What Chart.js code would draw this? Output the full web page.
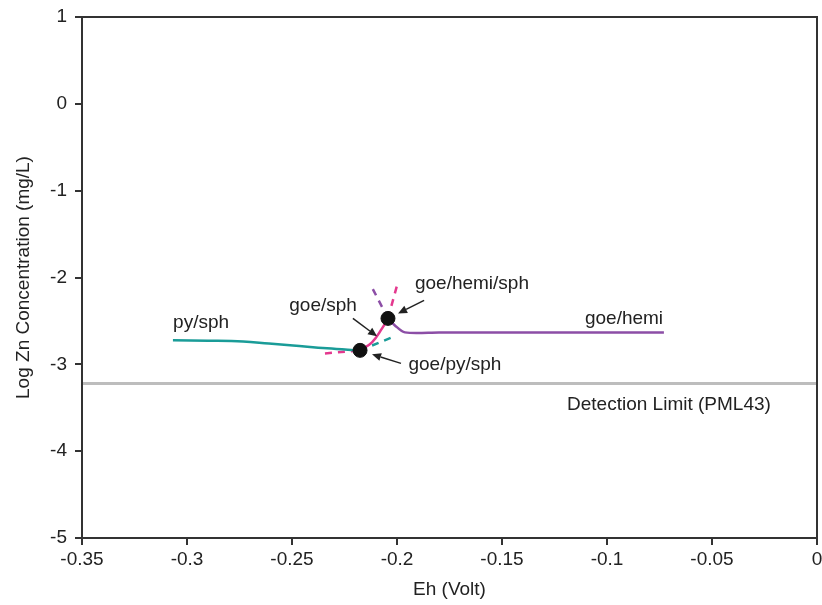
<!DOCTYPE html>
<html><head><meta charset="utf-8">
<script src="https://cdn.jsdelivr.net/npm/chart.js@4.4.1/dist/chart.umd.min.js"></script>
<style>html,body{margin:0;padding:0;background:#fff}#wrap{width:822px;height:605px}</style>
</head><body><div id="wrap"><canvas id="c" width="822" height="605"></canvas></div>
<script>
// Data (Eh in Volt, log Zn in mg/L)
const pySphEh   = [-0.3067, -0.2900, -0.2733, -0.2610, -0.2495, -0.2333, -0.2176];
const pySphLog  = [-2.724, -2.727, -2.736, -2.760, -2.782, -2.816, -2.839];
const pySphDashEh  = [-0.2176, -0.2024];
const pySphDashLog = [-2.839, -2.690];
const goeSphEh   = [-0.2176, -0.2119, -0.2071, -0.2043];
const goeSphLog  = [-2.839, -2.747, -2.586, -2.471];
const goeSphDashLeftEh  = [-0.2343, -0.2176];
const goeSphDashLeftLog = [-2.874, -2.839];
const goeSphDashUpEh  = [-0.2043, -0.2000];
const goeSphDashUpLog = [-2.471, -2.092];
const goeHemiEh   = [-0.2043, -0.2010, -0.1962, -0.1800, -0.0729];
const goeHemiLog  = [-2.471, -2.552, -2.632, -2.632, -2.632];
const goeHemiDashEh  = [-0.2043, -0.2119];
const goeHemiDashLog = [-2.471, -2.115];
const triplePointEh  = [-0.2176, -0.2043];
const triplePointLog = [-2.839, -2.471];
const detectionEh  = [-0.35, 0];
const detectionLog = [-3.22, -3.22];
const xTicks = [-0.35, -0.3, -0.25, -0.2, -0.15, -0.1, -0.05, 0];
const yTicks = [1, 0, -1, -2, -3, -4, -5];

const labels = [
  {text: 'py/sph', x: -0.2933, y: -2.517},
  {text: 'goe/sph', x: -0.2352, y: -2.322},
  {text: 'goe/hemi/sph', x: -0.1643, y: -2.069},
  {text: 'goe/py/sph', x: -0.1724, y: -3.0},
  {text: 'goe/hemi', x: -0.0919, y: -2.471},
  {text: 'Detection Limit (PML43)', x: -0.0705, y: -3.46}
];
const arrows = [
  {x1: -0.2210, y1: -2.471, x2: -0.2095, y2: -2.678},
  {x1: -0.1871, y1: -2.264, x2: -0.1995, y2: -2.414},
  {x1: -0.1981, y1: -2.989, x2: -0.2119, y2: -2.885}
];

const pts = (xs, ys) => xs.map((x, i) => ({x, y: ys[i]}));
const TEAL = '#1a9c98', MAG = '#e4388e', PUR = '#8c4ea6';
const FONT = "'Liberation Sans', Arial, sans-serif";
const FS = 19;

const framePlugin = {
  id: 'frame',
  afterDraw(chart) {
    const {ctx, chartArea: a, scales} = chart;
    ctx.save();
    ctx.strokeStyle = '#333'; ctx.lineWidth = 2;
    ctx.strokeRect(a.left, a.top, a.right - a.left, a.bottom - a.top);
    ctx.fillStyle = '#222';
    ctx.font = FS + 'px ' + FONT;
    ctx.textAlign = 'center'; ctx.textBaseline = 'middle';
    labels.forEach(l => ctx.fillText(l.text, scales.x.getPixelForValue(l.x), scales.y.getPixelForValue(l.y)));
    ctx.strokeStyle = '#222'; ctx.fillStyle = '#222'; ctx.lineWidth = 1.5;
    arrows.forEach(ar => {
      const x1 = scales.x.getPixelForValue(ar.x1), y1 = scales.y.getPixelForValue(ar.y1);
      const x2 = scales.x.getPixelForValue(ar.x2), y2 = scales.y.getPixelForValue(ar.y2);
      const ang = Math.atan2(y2 - y1, x2 - x1);
      const hl = 9, hw = 4;
      const bx = x2 - hl * Math.cos(ang), by = y2 - hl * Math.sin(ang);
      ctx.beginPath(); ctx.moveTo(x1, y1); ctx.lineTo(bx, by); ctx.stroke();
      ctx.beginPath();
      ctx.moveTo(x2, y2);
      ctx.lineTo(bx + hw * Math.sin(ang), by - hw * Math.cos(ang));
      ctx.lineTo(bx - hw * Math.sin(ang), by + hw * Math.cos(ang));
      ctx.closePath(); ctx.fill();
    });
    ctx.restore();
  }
};

const lineDs = (data, color, dash, extra) => Object.assign({
  data, borderColor: color, backgroundColor: color, borderWidth: 2.5,
  showLine: true, pointRadius: 0, borderDash: dash || [], tension: 0.4, fill: false, order: 1
}, extra || {});

const zeroPad = s => {
  s.paddingLeft = 0; s.paddingRight = 0; s.paddingTop = 0; s.paddingBottom = 0;
};

new Chart(document.getElementById('c'), {
  type: 'scatter',
  data: {
    datasets: [
      lineDs(pts(detectionEh, detectionLog), '#bdbdbd', [], {borderWidth: 3, tension: 0, order: 10}),
      lineDs(pts(pySphEh, pySphLog), TEAL),
      lineDs(pts(pySphDashEh, pySphDashLog), TEAL, [7, 6], {tension: 0}),
      lineDs(pts(goeSphDashLeftEh, goeSphDashLeftLog), MAG, [7, 6], {tension: 0}),
      lineDs(pts(goeSphDashUpEh, goeSphDashUpLog), MAG, [7, 6], {tension: 0}),
      lineDs(pts(goeHemiDashEh, goeHemiDashLog), PUR, [7, 6], {tension: 0}),
      lineDs(pts(goeSphEh, goeSphLog), MAG, [], {order: 0}),
      lineDs(pts(goeHemiEh, goeHemiLog), PUR, [], {tension: 0.3}),
      {data: pts(triplePointEh, triplePointLog), backgroundColor: '#111', borderColor: '#111',
       pointRadius: 7, showLine: false, order: -1}
    ]
  },
  options: {
    responsive: false, animation: false,
    layout: {autoPadding: false, padding: {top: 17, right: 5, left: 0, bottom: 0}},
    plugins: {legend: {display: false}, tooltip: {enabled: false}},
    scales: {
      x: {
        type: 'linear', min: -0.35, max: 0,
        afterBuildTicks: s => { s.ticks = xTicks.map(v => ({value: v})); },
        afterFit: s => { s.height = 67; zeroPad(s); },
        grid: {drawOnChartArea: false, tickLength: 7, color: '#333', lineWidth: 2},
        border: {color: '#333', width: 2},
        ticks: {color: '#222', font: {size: FS, family: FONT}, padding: 3, maxRotation: 0,
                callback: v => String(Math.round(v * 100) / 100)},
        title: {display: true, text: 'Eh (Volt)', color: '#222', font: {size: FS, family: FONT}, padding: {top: 0}}
      },
      y: {
        type: 'linear', min: -5, max: 1,
        afterBuildTicks: s => { s.ticks = yTicks.map(v => ({value: v})); },
        afterFit: s => { s.width = 82; zeroPad(s); },
        grid: {drawOnChartArea: false, tickLength: 7, color: '#333', lineWidth: 2},
        border: {color: '#333', width: 2},
        ticks: {color: '#222', font: {size: FS, family: FONT}, padding: 8},
        title: {display: true, text: 'Log Zn Concentration (mg/L)', color: '#222', font: {size: FS, family: FONT}, padding: {top: 12, bottom: 0}}
      }
    }
  },
  plugins: [framePlugin]
});
</script></body></html>
